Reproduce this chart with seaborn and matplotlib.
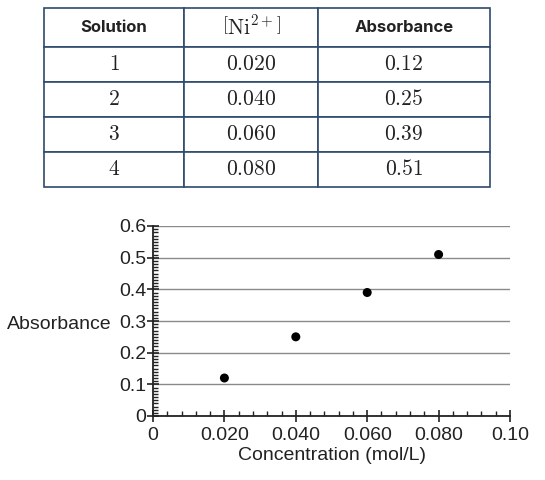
import matplotlib
matplotlib.use("Agg")
import matplotlib.pyplot as plt
from matplotlib.ticker import MultipleLocator, FixedLocator
import seaborn as sns
import pandas as pd

# ---- data ----
solution = ["1", "2", "3", "4"]
conc_text = ["0.020", "0.040", "0.060", "0.080"]
abs_text = ["0.12", "0.25", "0.39", "0.51"]
conc = [0.020, 0.040, 0.060, 0.080]
absorbance = [0.12, 0.25, 0.39, 0.51]
col_labels = ["Solution", r"$\left[\mathrm{Ni}^{2+}\right]$", "Absorbance"]
x_ticks = [0, 0.02, 0.04, 0.06, 0.08, 0.10]
x_tick_labels = ["0", "0.020", "0.040", "0.060", "0.080", "0.10"]
y_ticks = [0, 0.1, 0.2, 0.3, 0.4, 0.5, 0.6]
y_tick_labels = ["0", "0.1", "0.2", "0.3", "0.4", "0.5", "0.6"]

sns.set_style("ticks")
plt.rcParams["font.family"] = ["Liberation Sans", "DejaVu Sans"]
plt.rcParams["mathtext.fontset"] = "cm"

fig = plt.figure(figsize=(5.45, 4.8), dpi=100)

# ---- table ----
ax_t = fig.add_axes([44 / 545, 1 - 187 / 480, 446 / 545, 179 / 480])
ax_t.axis("off")
cell_text = [["$" + s + "$", "$" + c + "$", "$" + a + "$"]
             for s, c, a in zip(solution, conc_text, abs_text)]
tbl = ax_t.table(cellText=cell_text, colLabels=col_labels, cellLoc="center",
                 colWidths=[140 / 446, 134 / 446, 172 / 446], bbox=[0, 0, 1, 1])
tbl.auto_set_font_size(False)
edge = "#2f4a6d"
for (r, c), cell in tbl.get_celld().items():
    cell.set_edgecolor(edge)
    cell.set_linewidth(1.2)
    cell.set_facecolor("white")
    cell.set_height(39 if r == 0 else 35)
    txt = cell.get_text()
    txt.set_color("#222222")
    if r == 0 and c != 1:
        txt.set_fontfamily("Inter")
        txt.set_fontweight("bold")
        txt.set_fontsize(12)
    else:
        txt.set_fontsize(15.5)

# ---- scatter chart ----
ax = fig.add_axes([153 / 545, 64 / 480, 357 / 545, 190 / 480])
df = pd.DataFrame({"Concentration": conc, "Absorbance": absorbance})
ax.grid(axis="y", color="#8a8a8a", linewidth=1.0, zorder=0)
sns.scatterplot(data=df, x="Concentration", y="Absorbance", ax=ax, color="black",
                s=42, edgecolor="none", zorder=3, clip_on=False)
ax.set_xlim(0, 0.10)
ax.set_ylim(0, 0.6)
ax.xaxis.set_major_locator(FixedLocator(x_ticks))
ax.set_xticklabels(x_tick_labels)
ax.yaxis.set_major_locator(FixedLocator(y_ticks))
ax.set_yticklabels(y_tick_labels)
ax.xaxis.set_minor_locator(MultipleLocator(0.004))
ax.yaxis.set_minor_locator(MultipleLocator(0.01))
ax.tick_params(which="major", direction="inout", length=8, width=1.2, color="#222222",
               labelsize=14, labelcolor="#222222")
ax.tick_params(axis="x", which="major", pad=4)
ax.tick_params(axis="y", which="major", pad=1)
ax.tick_params(which="minor", direction="in", length=3.5, width=1.0, color="#222222")
for s in ["top", "right"]:
    ax.spines[s].set_visible(False)
for s in ["left", "bottom"]:
    ax.spines[s].set_linewidth(1.3)
    ax.spines[s].set_color("#222222")
ax.set_xlabel("Concentration (mol/L)", fontsize=14, color="#222222", labelpad=2)
ax.set_ylabel("Absorbance", fontsize=14, color="#222222", rotation=0,
              ha="right", va="center", labelpad=2)
ax.yaxis.set_label_coords(-0.115, 0.48)

fig.savefig("out.png", dpi=100)
